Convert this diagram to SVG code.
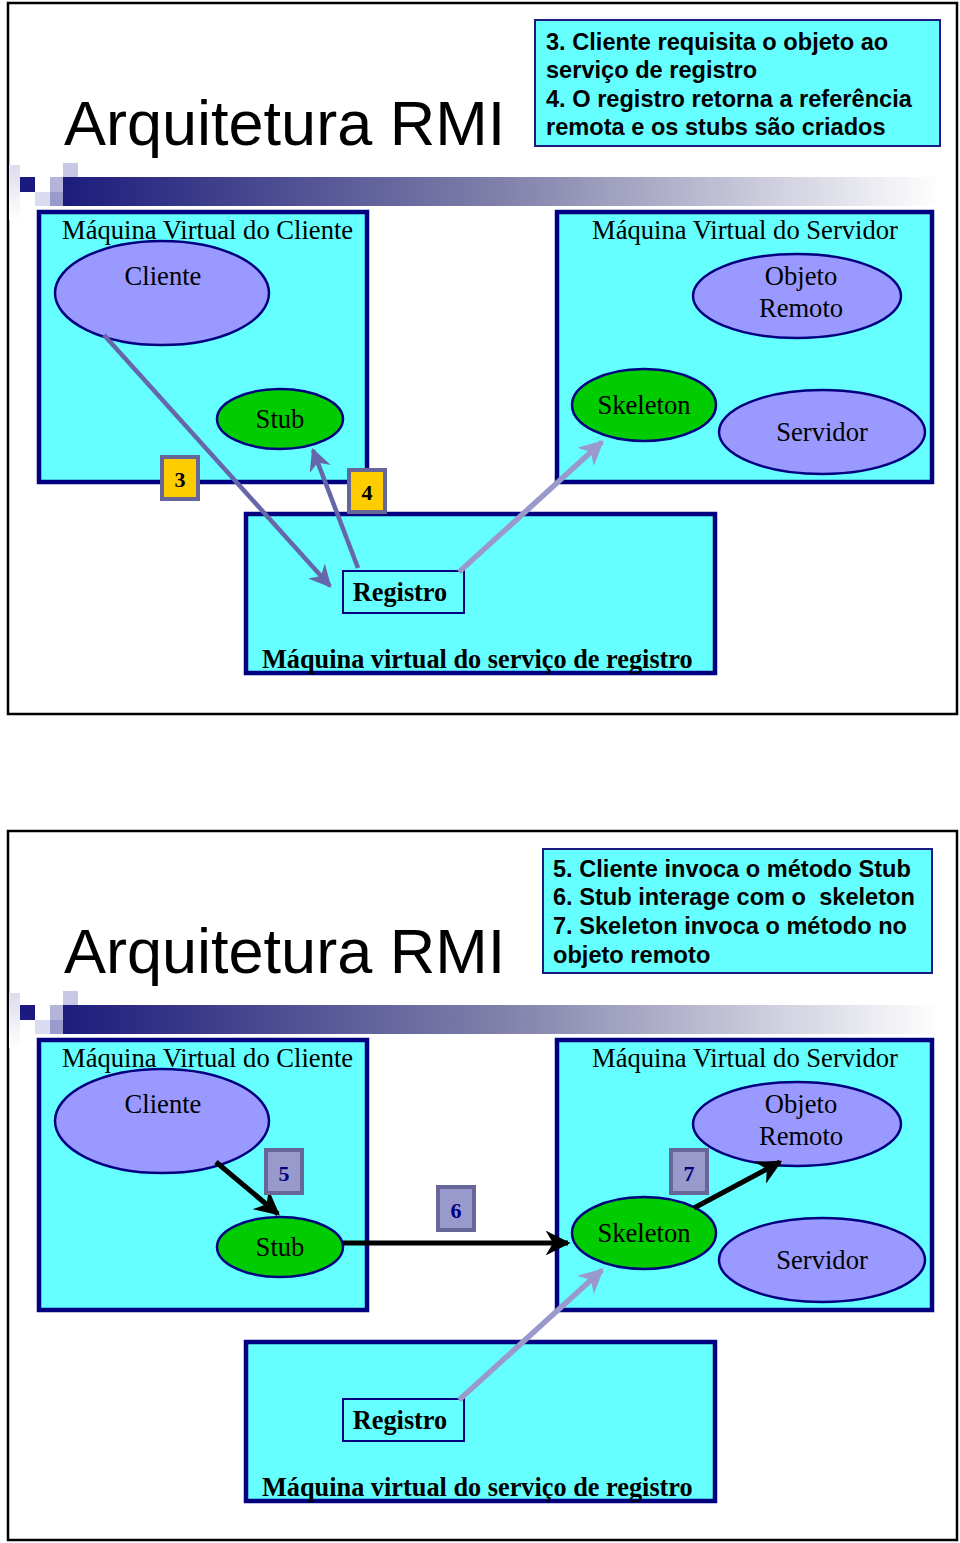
<svg xmlns="http://www.w3.org/2000/svg" width="960" height="1543" viewBox="0 0 960 1543">
<style>
.slide{fill:#fff;stroke:#000;stroke-width:2.5}
.title{font-family:"Liberation Sans",Arial,sans-serif;font-size:63px;fill:#000}
.note{fill:#66ffff;stroke:#1a1a80;stroke-width:2}
.notet{font-family:"Liberation Sans",Arial,sans-serif;font-size:23.6px;font-weight:bold;fill:#000;white-space:pre}
.vm{fill:#66ffff;stroke:#000080;stroke-width:4.5}
.vmt{font-family:"Liberation Serif","Times New Roman",serif;font-size:26.6px;fill:#000}
.vmb{font-family:"Liberation Serif","Times New Roman",serif;font-size:26.3px;font-weight:bold;fill:#000}
.ell{fill:#9999ff;stroke:#000080;stroke-width:2.5}
.grn{fill:#00cc00;stroke:#000080;stroke-width:2.5}
.et{font-family:"Liberation Serif","Times New Roman",serif;font-size:26.6px;fill:#000;text-anchor:middle}
.reg{fill:#66ffff;stroke:#000080;stroke-width:2}
.numY{fill:#ffcc00;stroke:#666699;stroke-width:4}
.numP{fill:#9999cc;stroke:#666699;stroke-width:4}
.numt{font-family:"Liberation Serif","Times New Roman",serif;font-size:22px;font-weight:bold;text-anchor:middle}
.slate{stroke:#6666aa;stroke-width:4.5;fill:none}
.lav{stroke:#9999cc;stroke-width:5.5;fill:none}
.blk{stroke:#000;stroke-width:5;fill:none}
</style>
<defs>
<linearGradient id="bar" x1="0" y1="0" x2="1" y2="0">
<stop offset="0" stop-color="#1c1c7c"/>
<stop offset="0.5" stop-color="#8080aa"/>
<stop offset="1" stop-color="#ffffff"/>
</linearGradient>
<linearGradient id="strip" x1="0" y1="0" x2="0" y2="1">
<stop offset="0" stop-color="#dcdcee"/>
<stop offset="1" stop-color="#ffffff"/>
</linearGradient>
<marker id="aS" viewBox="0 0 10 10" refX="9" refY="5" markerWidth="5" markerHeight="5" orient="auto" markerUnits="strokeWidth">
<path d="M0,0 L10,5 L0,10 L3,5 z" fill="#6666aa"/>
</marker>
<marker id="aL" viewBox="0 0 10 10" refX="9" refY="5" markerWidth="4.5" markerHeight="4.5" orient="auto" markerUnits="strokeWidth">
<path d="M0,0 L10,5 L0,10 L3,5 z" fill="#9999cc"/>
</marker>
<marker id="aB" viewBox="0 0 10 10" refX="9" refY="5" markerWidth="5" markerHeight="5" orient="auto" markerUnits="strokeWidth">
<path d="M0,0 L10,5 L0,10 L3,5 z" fill="#000"/>
</marker>
<g id="decor">
<rect x="9" y="165" width="11" height="55" fill="url(#strip)"/>
<rect x="63" y="177" width="877" height="29" fill="url(#bar)"/>
<rect x="20" y="177" width="15" height="15" fill="#1a1a80"/>
<rect x="50" y="177" width="13" height="15" fill="#b4b4da"/>
<rect x="63" y="163" width="15" height="14" fill="#c8c8e6"/>
<rect x="35" y="192" width="15" height="14" fill="#dadaf0"/>
<rect x="50" y="192" width="13" height="14" fill="#9a9acc"/>
</g>
</defs>

<!-- Slide 1 -->
<g id="slide1">
<rect class="slide" x="8" y="3" width="949" height="711"/>
<text class="title" x="64" y="145">Arquitetura RMI</text>
<use href="#decor"/>
</g>
<g id="note1">
<rect class="note" x="535" y="20" width="405" height="126"/>
<text class="notet" x="546" y="50">3. Cliente requisita o objeto ao</text>
<text class="notet" x="546" y="78">serviço de registro</text>
<text class="notet" x="546" y="107">4. O registro retorna a referência</text>
<text class="notet" x="546" y="135">remota e os stubs são criados</text>
</g>
<g id="vmCliente1">
<rect class="vm" x="39" y="212" width="328" height="270"/>
<text class="vmt" x="62" y="239">Máquina Virtual do Cliente</text>
</g>
<g id="vmServidor1">
<rect class="vm" x="557" y="212" width="375" height="270"/>
<text class="vmt" x="592" y="239">Máquina Virtual do Servidor</text>
</g>
<g id="vmRegistro1">
<rect class="vm" x="246" y="514" width="469" height="159"/>
<text class="vmb" x="262" y="668">Máquina virtual do serviço de registro</text>
</g>
<g id="cliente1">
<ellipse class="ell" cx="162" cy="293" rx="107" ry="52"/>
<text class="et" x="163" y="285">Cliente</text>
</g>
<g id="objeto1">
<ellipse class="ell" cx="797" cy="296" rx="104" ry="42"/>
<text class="et" x="801" y="285">Objeto</text>
<text class="et" x="801" y="317">Remoto</text>
</g>
<g id="stub1">
<ellipse class="grn" cx="280" cy="419" rx="63" ry="30"/>
<text class="et" x="280" y="428">Stub</text>
</g>
<g id="skeleton1">
<ellipse class="grn" cx="644" cy="405" rx="72" ry="36"/>
<text class="et" x="644" y="414">Skeleton</text>
</g>
<g id="servidor1">
<ellipse class="ell" cx="822" cy="432" rx="103" ry="42"/>
<text class="et" x="822" y="441">Servidor</text>
</g>
<g id="registro1">
<rect class="reg" x="343" y="571" width="121" height="42"/>
<text class="vmb" x="400" y="601" text-anchor="middle">Registro</text>
</g>
<g id="connectors1">
<line class="slate" x1="104" y1="335" x2="330" y2="586" marker-end="url(#aS)"/>
<line class="slate" x1="358" y1="568" x2="313" y2="450" marker-end="url(#aS)"/>
<line class="lav" x1="459" y1="572" x2="602" y2="442" marker-end="url(#aL)"/>
</g>
<g id="num3">
<rect class="numY" x="162" y="457" width="36" height="42"/>
<text class="numt" x="180" y="487" fill="#000">3</text>
</g>
<g id="num4">
<rect class="numY" x="349" y="470" width="36" height="42"/>
<text class="numt" x="367" y="500" fill="#000">4</text>
</g>

<!-- Slide 2 -->
<g id="slide2">
<rect class="slide" x="8" y="831" width="949" height="709"/>
<text class="title" x="64" y="973">Arquitetura RMI</text>
<use href="#decor" y="828"/>
</g>
<g id="note2">
<rect class="note" x="543" y="849" width="389" height="124"/>
<text class="notet" x="553" y="877">5. Cliente invoca o método Stub</text>
<text class="notet" x="553" y="905">6. Stub interage com o  skeleton</text>
<text class="notet" x="553" y="934">7. Skeleton invoca o método no</text>
<text class="notet" x="553" y="963">objeto remoto</text>
</g>
<g id="vmCliente2">
<rect class="vm" x="39" y="1040" width="328" height="270"/>
<text class="vmt" x="62" y="1067">Máquina Virtual do Cliente</text>
</g>
<g id="vmServidor2">
<rect class="vm" x="557" y="1040" width="375" height="270"/>
<text class="vmt" x="592" y="1067">Máquina Virtual do Servidor</text>
</g>
<g id="vmRegistro2">
<rect class="vm" x="246" y="1342" width="469" height="159"/>
<text class="vmb" x="262" y="1496">Máquina virtual do serviço de registro</text>
</g>
<g id="cliente2">
<ellipse class="ell" cx="162" cy="1121" rx="107" ry="52"/>
<text class="et" x="163" y="1113">Cliente</text>
</g>
<g id="objeto2">
<ellipse class="ell" cx="797" cy="1124" rx="104" ry="42"/>
<text class="et" x="801" y="1113">Objeto</text>
<text class="et" x="801" y="1145">Remoto</text>
</g>
<g id="stub2">
<ellipse class="grn" cx="280" cy="1247" rx="63" ry="30"/>
<text class="et" x="280" y="1256">Stub</text>
</g>
<g id="skeleton2">
<ellipse class="grn" cx="644" cy="1233" rx="72" ry="36"/>
<text class="et" x="644" y="1242">Skeleton</text>
</g>
<g id="servidor2">
<ellipse class="ell" cx="822" cy="1260" rx="103" ry="42"/>
<text class="et" x="822" y="1269">Servidor</text>
</g>
<g id="registro2">
<rect class="reg" x="343" y="1399" width="121" height="42"/>
<text class="vmb" x="400" y="1429" text-anchor="middle">Registro</text>
</g>
<g id="connectors2">
<line class="blk" x1="216" y1="1162" x2="278" y2="1214" marker-end="url(#aB)"/>
<line class="blk" x1="343" y1="1243" x2="568" y2="1243" marker-end="url(#aB)"/>
<line class="blk" x1="694" y1="1208" x2="780" y2="1162" marker-end="url(#aB)"/>
<line class="lav" x1="459" y1="1400" x2="602" y2="1270" marker-end="url(#aL)"/>
</g>
<g id="num5">
<rect class="numP" x="266" y="1150" width="36" height="43"/>
<text class="numt" x="284" y="1181" fill="#000080">5</text>
</g>
<g id="num6">
<rect class="numP" x="438" y="1187" width="36" height="43"/>
<text class="numt" x="456" y="1218" fill="#000080">6</text>
</g>
<g id="num7">
<rect class="numP" x="671" y="1150" width="36" height="43"/>
<text class="numt" x="689" y="1181" fill="#000080">7</text>
</g>
</svg>
